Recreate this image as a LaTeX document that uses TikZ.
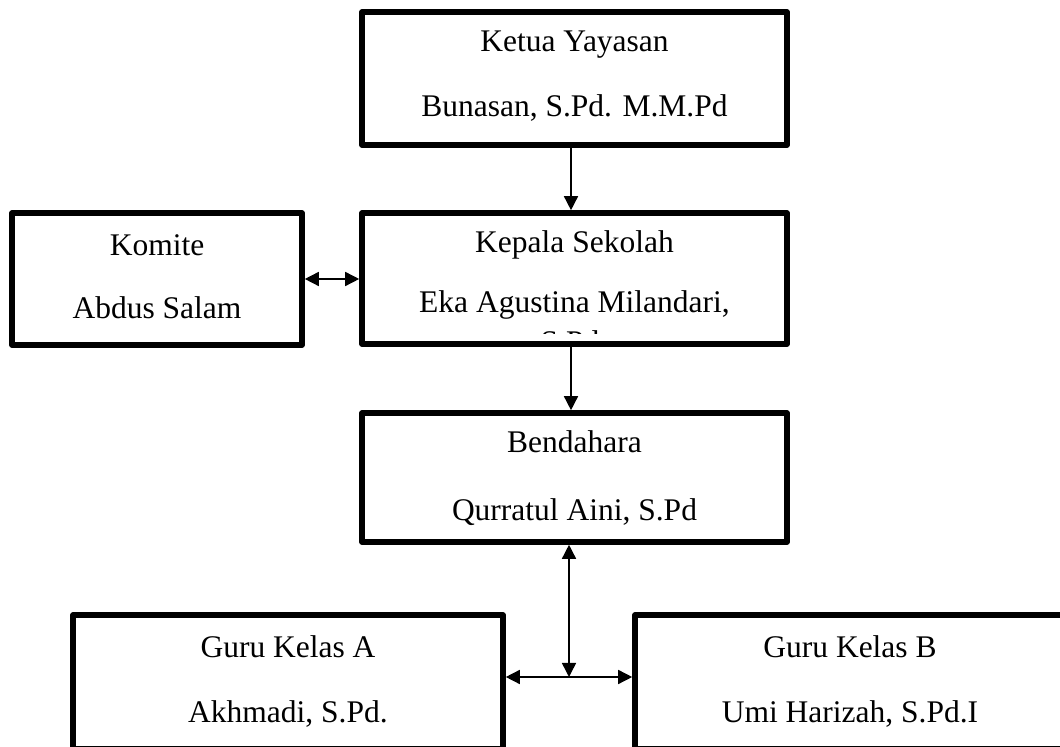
\documentclass[tikz,border=0pt]{standalone}
\usepackage{fontspec}
\setmainfont{Liberation Serif}
\usetikzlibrary{arrows.meta}
\begin{document}
\begin{tikzpicture}[x=0.5pt,y=-0.5pt,
  box/.style={draw, line width=2.8pt, line join=round, inner sep=0pt, align=center,
    font=\fontsize{15.75}{30}\selectfont},
  lbl/.style={inner sep=0pt, font=\fontsize{15.75}{19}\selectfont},
  conn/.style={line width=0.75pt, -{Triangle[length=7pt,width=7pt]}},
  conn2/.style={line width=0.75pt, {Triangle[length=7pt,width=7pt]}-{Triangle[length=7pt,width=7pt]}}]
\clip (0,0) rectangle (1060,747);
\fill[white] (0,0) rectangle (1060,747);
\node[box, minimum width=212.5pt, minimum height=66.5pt] (ketua) at (574.5,78.5) {};
\node[lbl] (t1) at (574.5,45) {Ketua Yayasan};
\node[lbl] (t2) at (574.5,108) {Bunasan, S.Pd. M.M.Pd};
\node[box, minimum width=212.5pt, minimum height=65.5pt] (kepala) at (574.5,278.5) {};
\node[lbl] (t3) at (574.5,245) {Kepala Sekolah};
\node[lbl] (t4) at (574.5,305) {Eka Agustina Milandari,};
\begin{scope}
  \clip (366,300) rectangle (783,334);
  \node[lbl, anchor=base] (t4b) at (570,353) {S.Pd};
\end{scope}
\node[box, minimum width=145pt, minimum height=66pt] (komite) at (157,279) {};
\node[lbl] (t5) at (157,245) {Komite};
\node[lbl] (t6) at (157,308) {Abdus Salam};
\node[box, minimum width=212.5pt, minimum height=64.5pt] (bend) at (574.5,477.5) {};
\node[lbl] (t7) at (574.5,442) {Bendahara};
\node[lbl] (t8) at (574.5,512) {Qurratul Aini, S.Pd};
\node[box, minimum width=215pt, minimum height=67pt] (guruA) at (288,682) {};
\node[lbl] (t9) at (288,647) {Guru Kelas A};
\node[lbl] (t10) at (288,714) {Akhmadi, S.Pd.};
\node[box, minimum width=215pt, minimum height=67pt] (guruB) at (850,682) {};
\node[lbl] (t11) at (850,647) {Guru Kelas B};
\node[lbl] (t12) at (850,714) {Umi Harizah, S.Pd.I};
\coordinate (j) at (569,677);
\coordinate (x1) at (571,0);
\draw[conn] (ketua.south -| x1) -- (kepala.north -| x1);
\draw[conn] (kepala.south -| x1) -- (bend.north -| x1);
\draw[conn2] (komite.east) -- (kepala.west |- komite.east);
\draw[conn2] (bend.south -| j) -- (j);
\draw[conn2] (guruA.east |- j) -- (guruB.west |- j);
\end{tikzpicture}
\end{document}
